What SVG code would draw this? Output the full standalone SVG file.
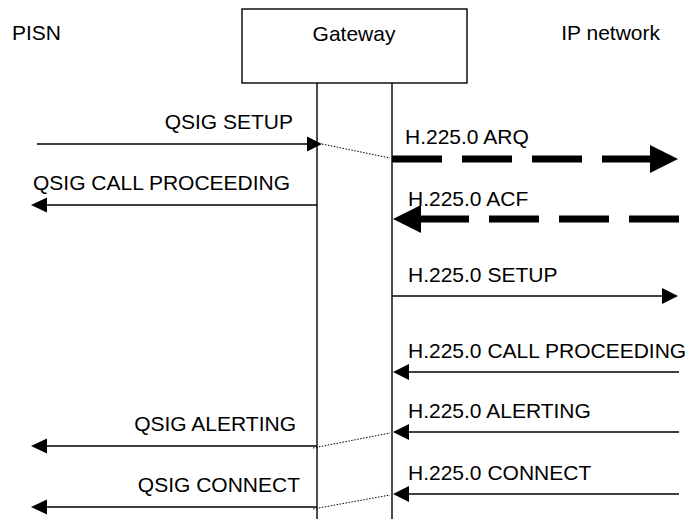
<svg xmlns="http://www.w3.org/2000/svg" width="689" height="519" viewBox="0 0 689 519">
<style>
text{font-family:"Liberation Sans",Arial,sans-serif;font-size:21px;fill:#000}
.l{stroke:#000;stroke-width:1.4;fill:none}
.th{stroke:#000;stroke-width:7;fill:none;stroke-dasharray:50,20}
.dot{stroke:#000;stroke-width:1;fill:none;stroke-dasharray:1.5,1.5}
.h{fill:#000}
.e{text-anchor:end}
</style>
<rect width="689" height="519" fill="#fff"/>
<g id="pisn"><text x="12" y="40">PISN</text></g>
<g id="ipnet"><text x="660" y="40" class="e">IP network</text></g>
<g id="gateway">
<rect x="242" y="9" width="225" height="74" class="l"/>
<text x="354" y="41" text-anchor="middle">Gateway</text>
<line x1="317" y1="83" x2="317" y2="519" class="l"/>
<line x1="392" y1="83" x2="392" y2="519" class="l"/>
</g>
<g id="connectors">
<!-- QSIG SETUP -->
<line x1="37" y1="144" x2="308" y2="144" class="l"/>
<polygon points="307,136.5 322,144 307,151.5" class="h"/>
<text x="293" y="129" class="e">QSIG SETUP</text>
<line x1="322" y1="144" x2="390" y2="158" class="dot"/>
<!-- ARQ -->
<line x1="392" y1="159" x2="651" y2="159" class="th"/>
<polygon points="650,145 678,159 650,173" class="h"/>
<text x="405" y="144">H.225.0 ARQ</text>
<!-- QSIG CALL PROCEEDING -->
<line x1="317" y1="205" x2="46" y2="205" class="l"/>
<polygon points="47,197.5 31,205 47,212.5" class="h"/>
<text x="33" y="190">QSIG CALL PROCEEDING</text>
<!-- ACF -->
<line x1="679" y1="219" x2="420" y2="219" class="th"/>
<polygon points="421,205 393,219 421,233" class="h"/>
<text x="408" y="206">H.225.0 ACF</text>
<!-- H.225 SETUP -->
<line x1="392" y1="296" x2="663" y2="296" class="l"/>
<polygon points="662,288 678,296 662,304" class="h"/>
<text x="408" y="282">H.225.0 SETUP</text>
<!-- H.225 CALL PROCEEDING -->
<line x1="679" y1="372" x2="408" y2="372" class="l"/>
<polygon points="409,364 393,372 409,380" class="h"/>
<text x="408" y="358">H.225.0 CALL PROCEEDING</text>
<!-- H.225 ALERTING -->
<line x1="679" y1="432" x2="408" y2="432" class="l"/>
<polygon points="409,424 393,432 409,440" class="h"/>
<text x="408" y="418">H.225.0 ALERTING</text>
<!-- QSIG ALERTING -->
<line x1="317" y1="446" x2="46" y2="446" class="l"/>
<polygon points="47,438.5 31,446 47,453.5" class="h"/>
<text x="296" y="431" class="e">QSIG ALERTING</text>
<line x1="313" y1="448" x2="390" y2="433" class="dot"/>
<!-- H.225 CONNECT -->
<line x1="679" y1="494" x2="408" y2="494" class="l"/>
<polygon points="409,486 393,494 409,502" class="h"/>
<text x="408" y="480">H.225.0 CONNECT</text>
<!-- QSIG CONNECT -->
<line x1="317" y1="507" x2="46" y2="507" class="l"/>
<polygon points="47,499.5 31,507 47,514.5" class="h"/>
<text x="300" y="492" class="e">QSIG CONNECT</text>
<line x1="313" y1="509" x2="390" y2="495" class="dot"/>
</g>
</svg>
